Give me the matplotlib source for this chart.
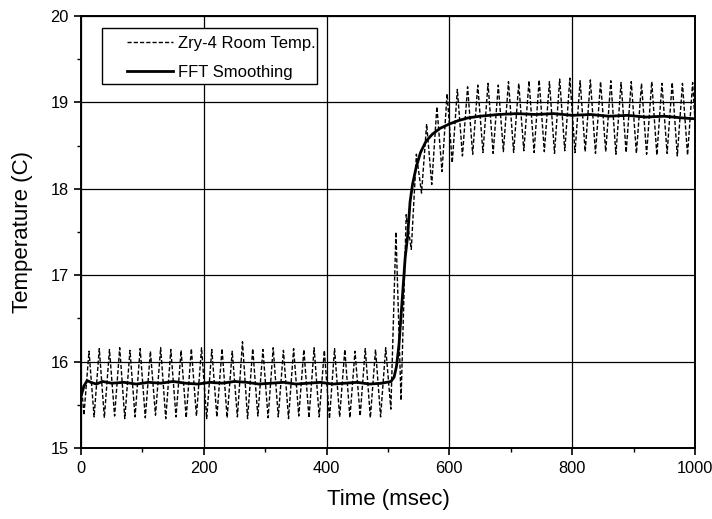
import matplotlib
matplotlib.use("Agg")
import matplotlib.pyplot as plt
from matplotlib.ticker import MultipleLocator
from matplotlib.patches import Rectangle

plt.rcParams['font.family'] = ['Liberation Sans', 'DejaVu Sans']

# raw signal (60 Hz ripple), zigzag vertices
raw_t = [0.0, 4.7, 13.0, 21.3, 29.7, 38.0, 46.3, 54.7, 63.0, 71.3, 79.7,
         88.0, 96.3, 104.7, 113.0, 121.3, 129.7, 138.0, 146.3, 154.7, 163.0,
         171.3, 179.7, 188.0, 196.3, 204.7, 213.0, 221.3, 229.7, 238.0, 246.3,
         254.7, 263.0, 271.3, 279.7, 288.0, 296.3, 304.7, 313.0, 321.3, 329.7,
         338.0, 346.3, 354.7, 363.0, 371.3, 379.7, 388.0, 396.3, 404.7, 413.0,
         421.3, 429.7, 438.0, 446.3, 454.7, 463.0, 471.3, 479.7, 488.0, 496.3,
         504.7, 513.0, 521.3, 529.7, 538.0, 546.3, 554.7, 563.0, 571.3, 579.7,
         588.0, 596.3, 604.7, 613.0, 621.3, 629.7, 638.0, 646.3, 654.7, 663.0,
         671.3, 679.7, 688.0, 696.3, 704.7, 713.0, 721.3, 729.7, 738.0, 746.3,
         754.7, 763.0, 771.3, 779.7, 788.0, 796.3, 804.7, 813.0, 821.3, 829.7,
         838.0, 846.3, 854.7, 863.0, 871.3, 879.7, 888.0, 896.3, 904.7, 913.0,
         921.3, 929.7, 938.0, 946.3, 954.7, 963.0, 971.3, 979.7, 988.0, 996.3,
         1000.0]
raw_temp = [15.80, 15.38, 16.12, 15.36, 16.15, 15.35, 16.14, 15.37, 16.16, 15.34, 16.13,
            15.36, 16.15, 15.35, 16.12, 15.38, 16.16, 15.34, 16.14, 15.36, 16.13,
            15.35, 16.15, 15.37, 16.16, 15.34, 16.14, 15.36, 16.15, 15.35, 16.12,
            15.36, 16.23, 15.34, 16.15, 15.37, 16.14, 15.35, 16.16, 15.36, 16.13,
            15.34, 16.15, 15.37, 16.14, 15.35, 16.16, 15.36, 16.13, 15.34, 16.15,
            15.36, 16.14, 15.35, 16.12, 15.37, 16.15, 15.35, 16.14, 15.36, 16.16,
            15.45, 17.50, 15.55, 17.70, 17.30, 18.40, 17.95, 18.75, 18.05, 18.95,
            18.20, 19.10, 18.30, 19.15, 18.38, 19.18, 18.40, 19.20, 18.42, 19.22,
            18.41, 19.20, 18.43, 19.24, 18.42, 19.22, 18.44, 19.25, 18.42, 19.26,
            18.43, 19.24, 18.41, 19.27, 18.44, 19.28, 18.42, 19.25, 18.43, 19.26,
            18.41, 19.24, 18.43, 19.25, 18.40, 19.23, 18.42, 19.24, 18.41, 19.22,
            18.40, 19.24, 18.39, 19.22, 18.41, 19.23, 18.38, 19.22, 18.39, 19.23,
            18.80]

# FFT smoothed curve
fft_t = [0, 5, 10, 16, 25, 35, 50, 70, 90, 110, 130, 150, 170, 190, 210, 230,
         250, 270, 290, 310, 330, 350, 370, 390, 410, 430, 450, 470, 490, 505,
         510, 514, 518, 521, 524, 528, 532, 536, 540, 546, 553, 562, 572, 585,
         600, 615, 630, 650, 680, 710, 740, 770, 800, 830, 860, 890, 920, 950,
         980, 1000]
fft_temp = [15.60, 15.72, 15.78, 15.76, 15.74, 15.77, 15.75, 15.76, 15.74, 15.76,
            15.75, 15.77, 15.75, 15.74, 15.76, 15.75, 15.77, 15.76, 15.74, 15.75,
            15.76, 15.74, 15.75, 15.76, 15.74, 15.75, 15.76, 15.74, 15.75, 15.77,
            15.82, 15.95, 16.20, 16.50, 16.80, 17.20, 17.45, 17.85, 18.05, 18.25,
            18.42, 18.55, 18.63, 18.70, 18.75, 18.79, 18.82, 18.84, 18.86, 18.87,
            18.86, 18.87, 18.85, 18.86, 18.84, 18.85, 18.83, 18.84, 18.82, 18.81]

fig = plt.figure(figsize=(7.12, 5.19), dpi=100)
ax = fig.add_axes([0.1138, 0.1368, 0.8622, 0.8324])

ax.plot(raw_t, raw_temp, color='black', lw=1.0, ls=(0, (3, 1.5)),
        label='Zry-4 Room Temp.')
ax.plot(fft_t, fft_temp, color='black', lw=2.0, label='FFT Smoothing')

ax.set_xlim(0, 1000)
ax.set_ylim(15, 20)
ax.xaxis.set_major_locator(MultipleLocator(200))
ax.xaxis.set_minor_locator(MultipleLocator(100))
ax.yaxis.set_major_locator(MultipleLocator(1))
ax.yaxis.set_minor_locator(MultipleLocator(0.5))
ax.tick_params(which='major', direction='out', length=5, width=1.2, pad=4,
               labelsize=11.8)
ax.tick_params(which='minor', direction='out', length=3, width=1.0)
ax.grid(True, which='major', color='black', lw=0.9)
for s in ax.spines.values():
    s.set_linewidth(1.4)

ax.set_xlabel('Time (msec)', fontsize=16, labelpad=10)
ax.set_ylabel('Temperature (C)', fontsize=16, labelpad=12)

# legend box drawn by hand so the left padding matches
ax.add_patch(Rectangle((0.0343, 0.843), 0.3507, 0.129, transform=ax.transAxes,
                       facecolor='white', edgecolor='black', lw=1.0, zorder=4))
ax.legend(loc='upper left', bbox_to_anchor=(0.075, 0.953), fontsize=12,
          frameon=False, handlelength=2.75, handletextpad=0.3, borderpad=0,
          labelspacing=0.8, borderaxespad=0)

fig.savefig('out.png', dpi=100)
